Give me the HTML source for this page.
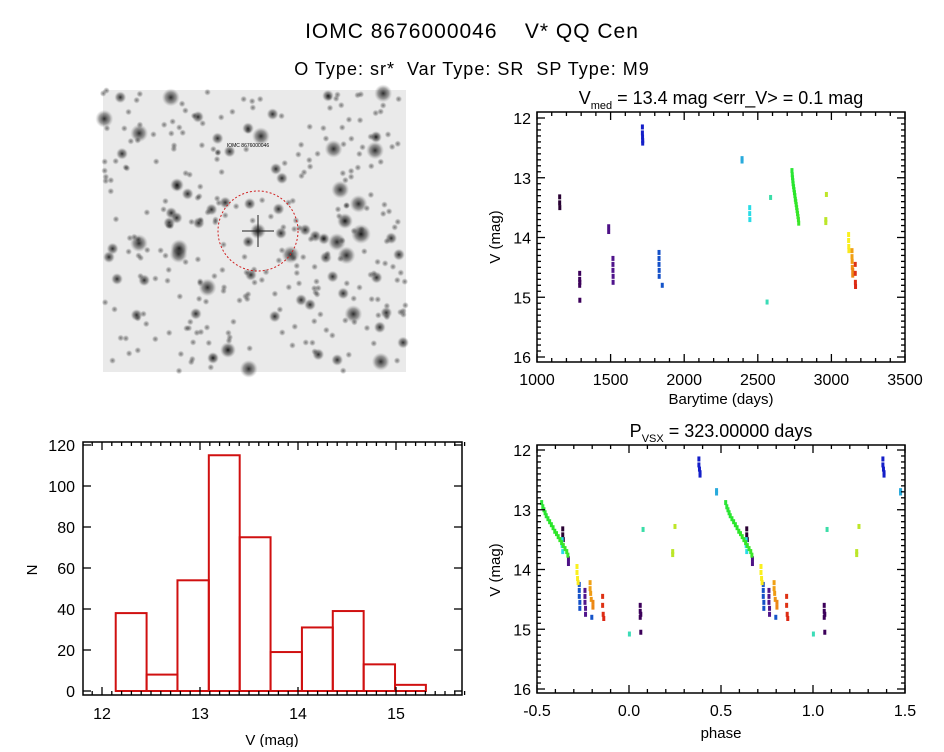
<!DOCTYPE html>
<html><head><meta charset="utf-8"><style>
body{margin:0;background:#fff;width:944px;height:747px;overflow:hidden;font-family:"Liberation Sans",sans-serif}
svg text{font-family:"Liberation Sans",sans-serif;fill:#000;white-space:pre}
</style></head><body>
<svg id="root" width="944" height="747" viewBox="0 0 944 747">
<text x="472" y="38" font-size="21" text-anchor="middle" letter-spacing="1">IOMC 8676000046    V* QQ Cen</text>
<text x="472" y="75" font-size="18" text-anchor="middle" letter-spacing="1">O Type: sr*  Var Type: SR  SP Type: M9</text>
<g id="img"></g>
<g id="lc"></g>
<g id="ph"></g>
<g id="hist"></g>
</svg>
<script>
// ---- light curve data ----
const times=[1154,1154,1155, 1290,1290,1290,1291,1291, 1487,1487, 1516,1516,1516,1517,1517, 1716,1716,1717,1718,1718, 1829,1829,1829,1830,1830, 1851, 2393,2393, 2445,2445,2446, 2563, 2587,
2732,2734,2736,2738,2740,2743,2746,2749,2752,2755,2758,2761,2764,2767,2770,2773,2776,2778,
2966,2962,2962, 3117,3117,3118,3119,3140,3140,3141,3142,3145,3145,3162,3162,3163,3164];
const mags=[13.32,13.42,13.5, 14.6,14.7,14.8,14.75,15.05, 13.82,13.9, 14.35,14.45,14.55,14.65,14.75, 12.15,12.25,12.32,12.38,12.42, 14.25,14.35,14.45,14.55,14.65, 14.8, 12.68,12.72, 13.5,13.6,13.7, 15.08, 13.33,
12.88,12.95,13.0,13.05,13.1,13.15,13.2,13.25,13.3,13.36,13.4,13.45,13.5,13.55,13.6,13.65,13.7,13.76,
13.28,13.7,13.75, 13.95,14.05,14.15,14.22,14.22,14.32,14.4,14.5,14.55,14.63,14.45,14.6,14.75,14.82];
const period=323, epoch=-21.7;
const lcXTicks=[1000,1500,2000,2500,3000,3500];
const magTicks=[12,13,14,15,16];
const phXTicks=[-0.5,0.0,0.5,1.0,1.5];
const phXLabels=["-0.5","0.0","0.5","1.0","1.5"];
// ---- histogram data ----
const binEdges=[12.14,12.455,12.77,13.09,13.405,13.72,14.04,14.355,14.67,14.99,15.305];
const counts=[38,8,54,115,75,19,31,39,13,3];
const histXTicks=[12,13,14,15];
const histYTicks=[0,20,40,60,80,100,120];

const NS="http://www.w3.org/2000/svg";
function mk(tag,attrs,parent){const e=document.createElementNS(NS,tag);for(const k in attrs)e.setAttribute(k,attrs[k]);parent.appendChild(e);return e;}
function colorFor(t){
  const stops=[[1154,[40,0,50]],[1290,[60,0,90]],[1516,[80,20,140]],[1716,[20,30,200]],[1829,[20,80,200]],[2393,[40,170,220]],[2445,[40,220,230]],[2570,[60,220,180]],[2750,[40,230,40]],[2966,[190,230,40]],[3117,[250,240,30]],[3140,[240,160,20]],[3164,[220,40,20]]];
  for(let i=1;i<stops.length;i++){if(t<=stops[i][0]){const a=stops[i-1],b=stops[i],f=(t-a[0])/(b[0]-a[0]);return 'rgb('+a[1].map((v,j)=>Math.round(v+(b[1][j]-v)*f)).join(',')+')';}}
  return 'rgb(220,40,20)';
}
function frame(g,x0,y0,x1,y1){mk('rect',{x:x0,y:y0,width:x1-x0,height:y1-y0,fill:'none',stroke:'#000','stroke-width':1.5},g);}
function tick(g,x1,y1,x2,y2){mk('line',{x1,y1,x2,y2,stroke:'#000','stroke-width':1.3},g);}
function xTicks(g,sx,lo,hi,major,nminor,y0,y1,labels,labVals){
  const step=major/nminor;
  for(let v=lo;v<=hi+1e-9;v+=step){const x=sx(v);const isM=Math.abs(Math.round((v-lo)/major)*major-(v-lo))<1e-6;const L=isM?8:4;tick(g,x,y1,x,y1-L);tick(g,x,y0,x,y0+L);}
  labVals.forEach((v,i)=>{const t=mk('text',{x:sx(v),y:y1+23,'font-size':16,'text-anchor':'middle'},g);t.textContent=labels[i];});
}
function yTicks(g,sy,lo,hi,major,nminor,x0,x1,labVals,labels){
  const step=major/nminor;
  for(let v=lo;v<=hi+1e-9;v+=step){const y=sy(v);const isM=Math.abs(Math.round((v-lo)/major)*major-(v-lo))<1e-6;const L=isM?8:4;tick(g,x0,y,x0+L,y);tick(g,x1,y,x1-L,y);}
  labVals.forEach((v,i)=>{const t=mk('text',{x:x0-6,y:sy(v)+6,'font-size':16,'text-anchor':'end'},g);t.textContent=labels[i];});
}
function yTitle(g,x,y,txt){const t=mk('text',{x:x,y:y,'font-size':15,'text-anchor':'middle',transform:'rotate(-90 '+x+' '+y+')'},g);t.textContent=txt;}

// ---- light curve ----
(function(){
  const g=document.getElementById('lc');
  const X0=537,X1=905,Y0=112,Y1=362;
  const sx=t=>X0+(t-1000)/2500*(X1-X0);
  const sy=m=>118+(m-12)/4*(357-118);
  const tt=mk('text',{x:721,y:104,'font-size':18,'text-anchor':'middle'},g);
  tt.innerHTML='V<tspan font-size="11" dy="5">med</tspan><tspan dy="-5"> = 13.4 mag &lt;err_V&gt; = 0.1 mag</tspan>';
  
  times.forEach((t,i)=>{const r=mk('rect',{x:sx(t)-1.5,y:sy(mags[i])-2.5,width:3,height:5,fill:colorFor(t)},g);
    });
  frame(g,X0,Y0,X1,Y1);
  xTicks(g,sx,1000,3500,500,5,Y0,Y1,lcXTicks.map(String),lcXTicks);
  yTicks(g,sy,12,16,1,10,X0,X1,magTicks,magTicks.map(String));
  const xl=mk('text',{x:721,y:404,'font-size':15,'text-anchor':'middle'},g);xl.textContent='Barytime (days)';
  
  yTitle(g,500,237,'V (mag)');
})();

// ---- phase plot ----
(function(){
  const g=document.getElementById('ph');
  const X0=537,X1=905,Y0=445,Y1=693;
  const sx=p=>X0+(p+0.5)/2*(X1-X0);
  const sy=m=>450+(m-12)/4*(689-450);
  const tt=mk('text',{x:721,y:437,'font-size':18,'text-anchor':'middle'},g);
  tt.innerHTML='P<tspan font-size="11" dy="5">VSX</tspan><tspan dy="-5"> = 323.00000 days</tspan>';
  
  times.forEach((t,i)=>{let f=((t-epoch)/period)%1;if(f>=0.5)f-=1;
    [f,f+1].forEach(p=>{const r=mk('rect',{x:sx(p)-1.5,y:sy(mags[i])-2.5,width:3,height:5,fill:colorFor(t)},g);
      });});
  frame(g,X0,Y0,X1,Y1);
  xTicks(g,sx,-0.5,1.5,0.5,5,Y0,Y1,phXLabels,phXTicks);
  yTicks(g,sy,12,16,1,10,X0,X1,magTicks,magTicks.map(String));
  const xl=mk('text',{x:721,y:738,'font-size':15,'text-anchor':'middle'},g);xl.textContent='phase';
  
  yTitle(g,500,570,'V (mag)');
})();

// ---- histogram ----
(function(){
  const g=document.getElementById('hist');
  const X0=83,X1=462,Y0=442,Y1=695;
  const sx=v=>102+(v-12)*98;
  const sy=n=>691-n/120*(691-445);
  counts.forEach((c,i)=>{const r=mk('rect',{x:sx(binEdges[i]),y:sy(c),width:sx(binEdges[i+1])-sx(binEdges[i]),height:sy(0)-sy(c),fill:'none',stroke:'#d01010','stroke-width':2},g);
    });
  frame(g,X0,Y0,X1,Y1);
  for(let v=11.9;v<=15.7;v+=0.1){const x=sx(v);const isM=Math.abs(v-Math.round(v))<1e-6;const L=isM?8:4;tick(g,x,Y1,x,Y1-L);tick(g,x,Y0,x,Y0+L);}
  histXTicks.forEach(v=>{const t=mk('text',{x:sx(v),y:Y1+24,'font-size':16,'text-anchor':'middle'},g);t.textContent=v;});
  histYTicks.forEach(v=>{const y=sy(v);tick(g,X0,y,X0+8,y);tick(g,X1,y,X1-8,y);const t=mk('text',{x:X0-8,y:y+6,'font-size':16,'text-anchor':'end'},g);t.textContent=v;});
  const xl=mk('text',{x:272,y:745,'font-size':15,'text-anchor':'middle'},g);xl.textContent='V (mag)';
  
  yTitle(g,37,570,'N');
})();

// ---- sky image (decorative) ----
(function(){
  const g=document.getElementById('img');
  const X=103,Y=90,W=303,H=282;
  const defs=mk('defs',{},g);
  const rg=mk('radialGradient',{id:'star'},defs);
  mk('stop',{offset:'0%','stop-color':'#000','stop-opacity':0.9},rg);
  mk('stop',{offset:'60%','stop-color':'#333','stop-opacity':0.5},rg);
  mk('stop',{offset:'100%','stop-color':'#888','stop-opacity':0},rg);
  mk('rect',{x:X,y:Y,width:W,height:H,fill:'#eaeaea'},g);
  let s=12345;const rnd=()=>{s=(s*1103515245+12345)%2147483648;return s/2147483648;};
  for(let i=0;i<320;i++){const cx=X+rnd()*W,cy=Y+rnd()*H;const b=rnd();const r=b>0.95?9:b>0.8?6:3.5;
    mk('circle',{cx:cx,cy:cy,r:r,fill:'url(#star)',opacity:b>0.8?0.9:0.55},g);}
  [[361,234,10],[345,221,8],[177,185,7],[228,350,8],[213,358,6],[376,137,6]].forEach(p=>mk('circle',{cx:p[0],cy:p[1],r:p[2],fill:'url(#star)'},g));
  mk('circle',{cx:258,cy:231,r:40,fill:'none',stroke:'#d02020','stroke-width':1,'stroke-dasharray':'2,2'},g);
  mk('circle',{cx:258,cy:231,r:8,fill:'url(#star)'},g);
  mk('line',{x1:258,y1:215,x2:258,y2:247,stroke:'#222','stroke-width':1},g);
  mk('line',{x1:242,y1:231,x2:274,y2:231,stroke:'#222','stroke-width':1},g);
  const t=mk('text',{x:248,y:147,'font-size':5,'text-anchor':'middle',fill:'#d02020'},g);t.textContent='IOMC 8676000046';
})();
</script>
</body></html>
